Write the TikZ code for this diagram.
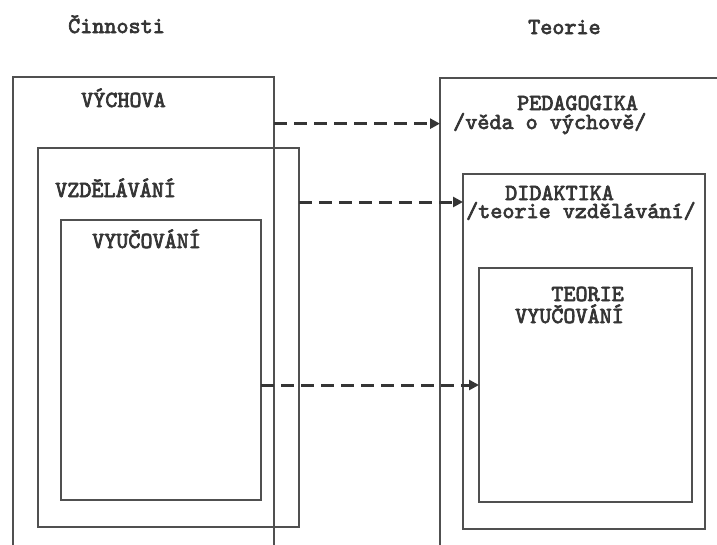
\documentclass[tikz,border=0pt]{standalone}
\usepackage{fontspec}
\usepackage{xcolor}
\usepackage{tikz}
\usetikzlibrary{arrows.meta, positioning}
\newfontfamily\typewr[FakeBold=3]{lmmono10-regular.otf}
\definecolor{ink}{HTML}{353535}
\definecolor{pencil}{HTML}{505050}

\begin{document}
\begin{tikzpicture}[
  x=1pt, y=-1pt,
  >={Triangle[length=10pt,width=10pt]},
  frame/.style={rectangle, draw=pencil, line width=2.2pt, anchor=north west, inner sep=0pt, outer sep=0pt},
  caption/.style={inner sep=0pt, text=ink, font=\typewr\fontsize{23}{24}\selectfont},
  flow/.style={->, draw=ink, line width=3pt, dash pattern=on 13pt off 7pt}
]
  \useasboundingbox (0,0) rectangle (717,544);
  \clip (0,0) rectangle (717,544);
  % cinnosti
  \node[frame, minimum width=261pt, minimum height=490pt] (vychova) at (13,77) {};
  \node[frame, minimum width=261pt, minimum height=379pt] (vzdel) at (38,148) {};
  \node[frame, minimum width=200pt, minimum height=280pt] (vyuc) at (61,220) {};
  % teorie
  \node[frame, minimum width=300pt, minimum height=490pt] (pedag) at (440,78) {};
  \node[frame, minimum width=242pt, minimum height=355pt] (didak) at (463,174) {};
  \node[frame, minimum width=213pt, minimum height=234pt] (teorvyuc) at (479,268) {};

  \node[caption, anchor=base west] (cinnosti) at (68,33) {Činnosti};
  \node[caption, anchor=base west] (teorie) at (528,34) {Teorie};
  \node[caption, anchor=base west] (vychlbl) at (81,107) {VÝCHOVA};
  \node[caption, anchor=base west] (vzdellbl) at (55,197) {VZDĚLÁVÁNÍ};
  \node[caption, anchor=base west] (vyuclbl) at (92,248) {VYUČOVÁNÍ};
  \node[caption, anchor=base west] (pedlbl) at (517,110) {PEDAGOGIKA};
  \node[caption, anchor=base west] (veda) at (453,129) {/věda o výchově/};
  \node[caption, anchor=base west] (didlbl) at (505,200) {DIDAKTIKA};
  \node[caption, anchor=base west] (teorvzd) at (466,218) {/teorie vzdělávání/};
  \node[caption, anchor=base east] (teorlbl) at (624,301) {TEORIE};
  \node[caption, anchor=base east] (vyuclbl2) at (624,323) {VYUČOVÁNÍ};

  \coordinate (lvl2) at (0,202);
  \draw[flow] (vychova.east |- veda.west) -- (pedag.west |- veda.west);
  \draw[flow] (vzdel.east |- lvl2) -- (didak.west |- lvl2);
  \draw[flow] (vyuc.east |- teorvyuc.west) -- (teorvyuc.west);
\end{tikzpicture}
\end{document}
